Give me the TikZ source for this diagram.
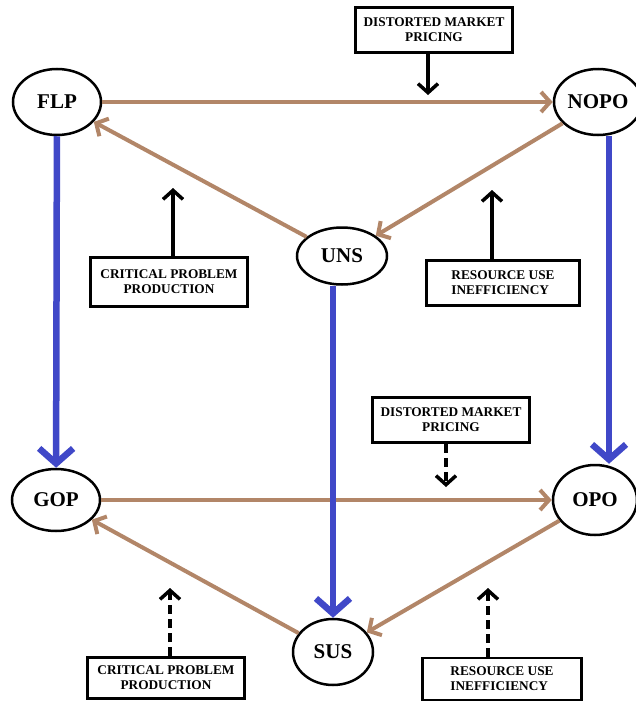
\documentclass[tikz,border=0pt]{standalone}
\usepackage{fontspec}
\setmainfont{Liberation Serif}
\usetikzlibrary{shapes.geometric, arrows.meta}
\definecolor{flowbrown}{RGB}{178,134,104}
\definecolor{flowblue}{RGB}{64,72,200}
\tikzstyle{state} = [ellipse, draw=black, line width=2.5pt, minimum width=88pt, minimum height=66pt, inner sep=0pt, fill=white, font=\fontsize{21}{24}\selectfont\bfseries]
\tikzstyle{cause} = [rectangle, draw=black, line width=2.8pt, minimum width=157pt, minimum height=45pt, align=center, font=\fontsize{13.3}{15}\selectfont\bfseries]
\tikzstyle{link} = [line width=4pt, draw=flowbrown, -{Straight Barb[length=9pt,width=20pt]}]
\tikzstyle{drift} = [line width=6.5pt, draw=flowblue, -{Straight Barb[length=15pt,width=34pt]}]
\tikzstyle{push} = [line width=3.5pt, -{Straight Barb[length=9pt,width=20pt]}]
\tikzstyle{weakpush} = [push, dash pattern=on 9pt off 5pt]

\begin{document}
\begin{tikzpicture}[x=1pt, y=-1pt]
		\useasboundingbox (0,0) rectangle (636,704);
		\node (flp) [state] at (57,102) {FLP};
		\node (nopo) [state] at (598,102) {NOPO};
		\node (uns) [state, minimum width=90pt, minimum height=57pt] at (342,256) {UNS};
		\node (gop) [state, minimum height=62pt] at (56,500) {GOP};
		\node (opo) [state, minimum width=84pt, minimum height=70pt] at (595,500) {OPO};
		\node (sus) [state, minimum width=80pt] at (333,652) {SUS};
		\node (dmptop) [cause] at (434,30) {DISTORTED MARKET\\PRICING};
		\node (cpptop) [cause, minimum height=49pt] at (169,282) {CRITICAL PROBLEM\\PRODUCTION};
		\node (ruitop) [cause, minimum width=153pt, align=left] at (503,283) {RESOURCE USE\\INEFFICIENCY};
		\node (dmpbot) [cause] at (451,420) {DISTORTED MARKET\\PRICING};
		\node (cppbot) [cause, minimum height=41pt] at (166,678) {CRITICAL PROBLEM\\PRODUCTION};
		\node (ruibot) [cause, minimum width=159pt, minimum height=42pt, align=left] at (502,679) {RESOURCE USE\\INEFFICIENCY};
		\coordinate (hit1) at (428,95);
		\coordinate (hit2) at (173,188);
		\coordinate (hit3) at (492,190);
		\coordinate (hit4) at (446,487);
		\coordinate (hit5) at (170,588);
		\coordinate (hit6) at (488,588);
		\draw [link] (flp) -- (nopo);
		\draw [link] (uns) -- (flp);
		\draw [link] (nopo) -- (uns);
		\draw [link] (gop) -- (opo);
		\draw [link] (sus) -- (gop);
		\draw [link] (opo) -- (sus);
		\draw [drift] (flp) -- (gop);
		\draw [drift] ([xshift=11pt]nopo.south) -- ([xshift=14pt]opo.north);
		\draw [drift] ([xshift=-9pt]uns.south) -- (sus);
		\draw [push] (dmptop.south -| hit1) -- (hit1);
		\draw [push] (cpptop.north -| hit2) -- (hit2);
		\draw [push] (ruitop.north -| hit3) -- (hit3);
		\draw [weakpush] (dmpbot.south -| hit4) -- (hit4);
		\draw [weakpush] (cppbot.north -| hit5) -- (hit5);
		\draw [weakpush] (ruibot.north -| hit6) -- (hit6);
\end{tikzpicture}
\end{document}
